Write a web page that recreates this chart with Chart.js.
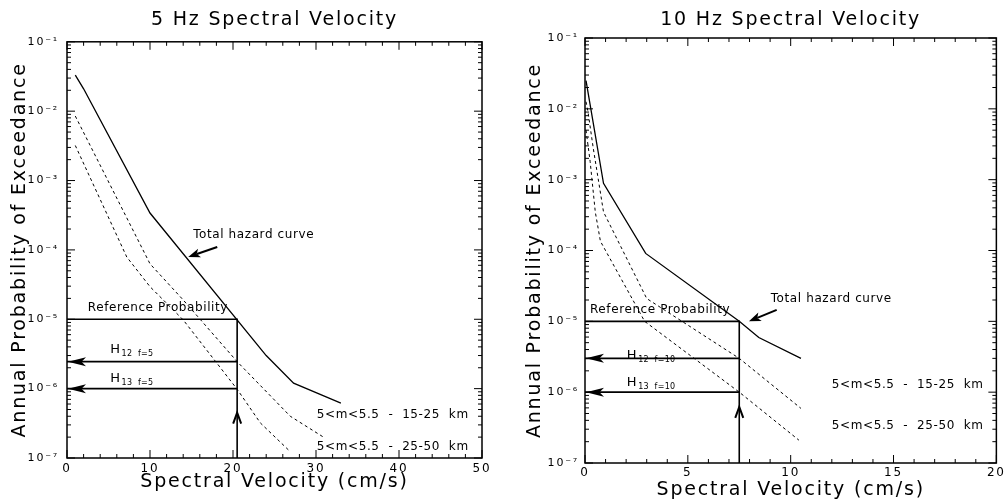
<!DOCTYPE html>
<html lang="en">
<head>
<meta charset="UTF-8">
<script src="https://cdn.jsdelivr.net/npm/chart.js"></script>
<style>
  body { margin: 0; background: #fff; }
  .panel { position: absolute; top: 0; height: 503px; }
</style>
</head>
<body>
<div class="panel" style="left:0;width:503px"><canvas id="hz5"></canvas></div>
<div class="panel" style="left:503px;width:504px"><canvas id="hz10"></canvas></div>

<script>
// ---- 5 Hz panel data (velocity cm/s, annual probability) ----
const hz5TotalX = [1, 2, 10, 24, 27.3, 33];
const hz5TotalP = [3.3e-2, 2.1e-2, 3.4e-4, 3.0e-6, 1.2e-6, 6.2e-7];
const hz5NearX  = [1, 10, 14, 20.5, 26.9, 30.9];
const hz5NearP  = [8.5e-3, 6.3e-5, 1.9e-5, 2.45e-6, 4.0e-7, 2.0e-7];
const hz5FarX   = [1, 7.2, 10, 14, 20.5, 23.3, 26.7];
const hz5FarP   = [3.2e-3, 7.9e-5, 2.95e-5, 9.8e-6, 9.8e-7, 3.2e-7, 1.3e-7];
const hz5RefVel = 20.5;
const hz5H12 = 2.45e-6;
const hz5H13 = 1.0e-6;

// ---- 10 Hz panel data ----
const hz10TotalX = [0.05, 0.9, 2.95, 7.5, 8.45, 10.5];
const hz10TotalP = [2.5e-2, 8.9e-4, 9.1e-5, 1.0e-5, 5.9e-6, 3.0e-6];
const hz10NearX  = [0.05, 0.15, 0.4, 0.9, 3.0, 7.5, 10.5];
const hz10NearP  = [1.26e-2, 8.9e-3, 2.8e-3, 3.5e-4, 2.1e-5, 3.0e-6, 5.9e-7];
const hz10FarX   = [0.05, 0.25, 0.5, 0.75, 2.9, 7.5, 10.4];
const hz10FarP   = [5.0e-3, 1.8e-3, 3.5e-4, 1.35e-4, 1.0e-5, 1.0e-6, 2.1e-7];
const hz10RefVel = 7.5;
const hz10H12 = 3.0e-6;
const hz10H13 = 1.0e-6;

// shared
const refProb = 1e-5;
const yMin = 1e-7, yMax = 1e-1;
const decadeLabels = { '-7': '10⁻⁷', '-6': '10⁻⁶', '-5': '10⁻⁵', '-4': '10⁻⁴', '-3': '10⁻³', '-2': '10⁻²', '-1': '10⁻¹' };
const yTickValues = [];
for (let e = -7; e < -1; e++) {
  for (let k = 1; k <= 9; k++) yTickValues.push(+(k * Math.pow(10, e)).toPrecision(3));
}
yTickValues.push(1e-1);

const FONT = "'DejaVu Sans', sans-serif";

function pts(xs, ps) { return xs.map((x, i) => ({ x: x, y: ps[i] })); }
function isDecade(v) { const l = Math.log10(v); return Math.abs(l - Math.round(l)) < 1e-6; }

function arrowHead(ctx, tx, ty, fx, fy, len, half) {
  const a = Math.atan2(ty - fy, tx - fx);
  const bx = tx - len * Math.cos(a), by = ty - len * Math.sin(a);
  ctx.beginPath();
  ctx.moveTo(tx, ty);
  ctx.lineTo(bx + half * Math.sin(a), by - half * Math.cos(a));
  ctx.lineTo(tx - len * 0.75 * Math.cos(a), ty - len * 0.75 * Math.sin(a));
  ctx.lineTo(bx - half * Math.sin(a), by + half * Math.cos(a));
  ctx.closePath();
  ctx.fill();
}

// frame, inward ticks, arrows and notes
const framePlugin = {
  id: 'frame',
  beforeDraw(chart) { chart.ctx.letterSpacing = '1.8px'; },   // wide titles like the original
  beforeDatasetsDraw(chart) { chart.ctx.letterSpacing = '0px'; },
  afterDraw(chart, args, o) {
    const { ctx, chartArea: ca, scales: { x, y } } = chart;
    ctx.save();
    ctx.strokeStyle = '#000';
    ctx.fillStyle = '#000';
    ctx.lineWidth = 1.5;
    ctx.strokeRect(ca.left, ca.top, ca.right - ca.left, ca.bottom - ca.top);

    ctx.lineWidth = 1;
    ctx.beginPath();
    x.ticks.forEach(t => {
      const px = x.getPixelForValue(t.value);
      const len = (t.value % o.xMajor === 0) ? 8 : 4;
      ctx.moveTo(px, ca.bottom); ctx.lineTo(px, ca.bottom - len);
      ctx.moveTo(px, ca.top); ctx.lineTo(px, ca.top + len);
    });
    y.ticks.forEach(t => {
      const py = y.getPixelForValue(t.value);
      const len = isDecade(t.value) ? 8 : 4;
      ctx.moveTo(ca.left, py); ctx.lineTo(ca.left + len, py);
      ctx.moveTo(ca.right, py); ctx.lineTo(ca.right - len, py);
    });
    ctx.stroke();

    // left arrows on H lines
    [o.h12, o.h13].forEach(h => {
      const py = y.getPixelForValue(h);
      arrowHead(ctx, ca.left + 1, py, x.getPixelForValue(o.vel), py, 18, 4.5);
    });

    // upward chevron on the vertical line
    const vx = x.getPixelForValue(o.vel), vy = y.getPixelForValue(o.upTip);
    ctx.lineWidth = 2;
    ctx.beginPath();
    ctx.moveTo(vx - 4, vy + 11); ctx.lineTo(vx, vy); ctx.lineTo(vx + 4, vy + 11);
    ctx.stroke();

    // total hazard pointer
    const tx = x.getPixelForValue(o.pointer.tip[0]), ty = y.getPixelForValue(o.pointer.tip[1]);
    const fx = x.getPixelForValue(o.pointer.tail[0]), fy = y.getPixelForValue(o.pointer.tail[1]);
    ctx.lineWidth = 2;
    ctx.beginPath(); ctx.moveTo(fx, fy); ctx.lineTo(tx + (fx - tx) * 0.3, ty + (fy - ty) * 0.3); ctx.stroke();
    arrowHead(ctx, tx, ty, fx, fy, 12, 4.5);

    // notes
    ctx.textBaseline = 'middle';
    ctx.textAlign = 'left';
    o.notes.forEach(n => {
      const px = x.getPixelForValue(n.x), py = y.getPixelForValue(n.y);
      ctx.letterSpacing = '0.6px';
      ctx.font = (n.sub ? '13px ' : '12px ') + FONT;
      ctx.fillText(n.text, px, py);
      if (n.sub) {
        const w = ctx.measureText(n.text).width;
        ctx.letterSpacing = '0.3px';
        ctx.font = '8px ' + FONT;
        ctx.fillText(n.sub, px + w + 1, py + 4);
      }
    });
    ctx.restore();
  }
};

function makePanel(id, p) {
  const solid = { borderColor: '#000', borderWidth: 1.3, pointRadius: 0, fill: false, tension: 0 };
  const dashed = Object.assign({}, solid, { borderWidth: 1, borderDash: [3, 3] });
  const guide = Object.assign({}, solid, { borderWidth: 1.6 });
  return new Chart(document.getElementById(id), {
    type: 'line',
    data: {
      datasets: [
        Object.assign({ data: pts(p.totalX, p.totalP) }, solid),
        Object.assign({ data: pts(p.nearX, p.nearP) }, dashed),
        Object.assign({ data: pts(p.farX, p.farP) }, dashed),
        Object.assign({ data: [{ x: 0, y: refProb }, { x: p.vel, y: refProb }, { x: p.vel, y: yMin }] }, guide),
        Object.assign({ data: [{ x: 0, y: p.h12 }, { x: p.vel, y: p.h12 }] }, guide),
        Object.assign({ data: [{ x: 0, y: p.h13 }, { x: p.vel, y: p.h13 }] }, guide)
      ]
    },
    options: {
      responsive: true,
      maintainAspectRatio: false,
      animation: false,
      events: [],
      layout: { padding: { left: 0, right: p.padRight, top: 0, bottom: 0 } },
      plugins: {
        legend: { display: false },
        tooltip: { enabled: false },
        title: {
          display: true, text: p.title, color: '#000', fullSize: false,
          font: { family: FONT, size: 19, weight: 'normal' },
          padding: { top: p.titleTop, bottom: p.titleBottom }
        },
        frame: {
          xMajor: p.xMajor, vel: p.vel, h12: p.h12, h13: p.h13, upTip: p.upTip,
          pointer: p.pointer, notes: p.notes
        }
      },
      scales: {
        x: {
          type: 'linear', min: 0, max: p.xMax,
          grid: { display: false, drawTicks: false },
          border: { display: false },
          afterFit: s => { s.height = p.xAxisH; },
          ticks: {
            stepSize: p.xStep, autoSkip: false, maxRotation: 0, padding: p.xLabelPad, color: '#000',
            font: { family: FONT, size: 12 },
            callback: v => (v % p.xMajor === 0 ? String(v) : '')
          },
          title: {
            display: true, text: 'Spectral Velocity (cm/s)', color: '#000',
            font: { family: FONT, size: 19 }, padding: { top: 0, bottom: p.xTitlePad }
          }
        },
        y: {
          type: 'logarithmic', min: yMin, max: yMax,
          grid: { display: false, drawTicks: false },
          border: { display: false },
          afterFit: s => { s.width = p.yAxisW; },
          afterBuildTicks: s => { s.ticks = yTickValues.map(v => ({ value: v })); },
          ticks: {
            autoSkip: false, padding: p.yLabelPad, color: '#000',
            font: { family: FONT, size: 11 },
            callback: v => (isDecade(v) ? decadeLabels[String(Math.round(Math.log10(v)))] : '')
          },
          title: {
            display: true, text: 'Annual Probability of Exceedance', color: '#000',
            font: { family: FONT, size: 19 }, padding: { top: p.yTitlePad, bottom: 0 }
          }
        }
      }
    },
    plugins: [framePlugin]
  });
}

makePanel('hz5', {
  title: '5 Hz Spectral Velocity', titleTop: 9, titleBottom: 10,
  padRight: 21, xAxisH: 45, yAxisW: 67, xLabelPad: 4, yLabelPad: 8, yTitlePad: 9, xTitlePad: 10,
  xMax: 50, xStep: 2, xMajor: 10,
  totalX: hz5TotalX, totalP: hz5TotalP, nearX: hz5NearX, nearP: hz5NearP, farX: hz5FarX, farP: hz5FarP,
  vel: hz5RefVel, h12: hz5H12, h13: hz5H13, upTip: 4.5e-7,
  pointer: { tail: [18.1, 1.1e-4], tip: [14.6, 7.9e-5] },
  notes: [
    { x: 15.2, y: 1.65e-4, text: 'Total hazard curve' },
    { x: 2.5, y: 1.45e-5, text: 'Reference Probability' },
    { x: 5.2, y: 3.6e-6, text: 'H', sub: '12  f=5' },
    { x: 5.2, y: 1.4e-6, text: 'H', sub: '13  f=5' },
    { x: 30.1, y: 4.2e-7, text: '5<m<5.5  -  15-25  km' },
    { x: 30.1, y: 1.44e-7, text: '5<m<5.5  -  25-50  km' }
  ]
});

makePanel('hz10', {
  title: '10 Hz Spectral Velocity', titleTop: 8.6, titleBottom: 6.6,
  padRight: 5, xAxisH: 40, yAxisW: 82, xLabelPad: 3, yLabelPad: 6, yTitlePad: 21, xTitlePad: 2,
  xMax: 20, xStep: 1, xMajor: 5,
  totalX: hz10TotalX, totalP: hz10TotalP, nearX: hz10NearX, nearP: hz10NearP, farX: hz10FarX, farP: hz10FarP,
  vel: hz10RefVel, h12: hz10H12, h13: hz10H13, upTip: 6.2e-7,
  pointer: { tail: [9.32, 1.45e-5], tip: [7.97, 1.0e-5] },
  notes: [
    { x: 9.03, y: 2.1e-5, text: 'Total hazard curve' },
    { x: 0.24, y: 1.45e-5, text: 'Reference Probability' },
    { x: 2.03, y: 3.3e-6, text: 'H', sub: '12  f=10' },
    { x: 2.03, y: 1.35e-6, text: 'H', sub: '13  f=10' },
    { x: 12, y: 1.26e-6, text: '5<m<5.5  -  15-25  km' },
    { x: 12, y: 3.3e-7, text: '5<m<5.5  -  25-50  km' }
  ]
});
</script>
</body>
</html>
